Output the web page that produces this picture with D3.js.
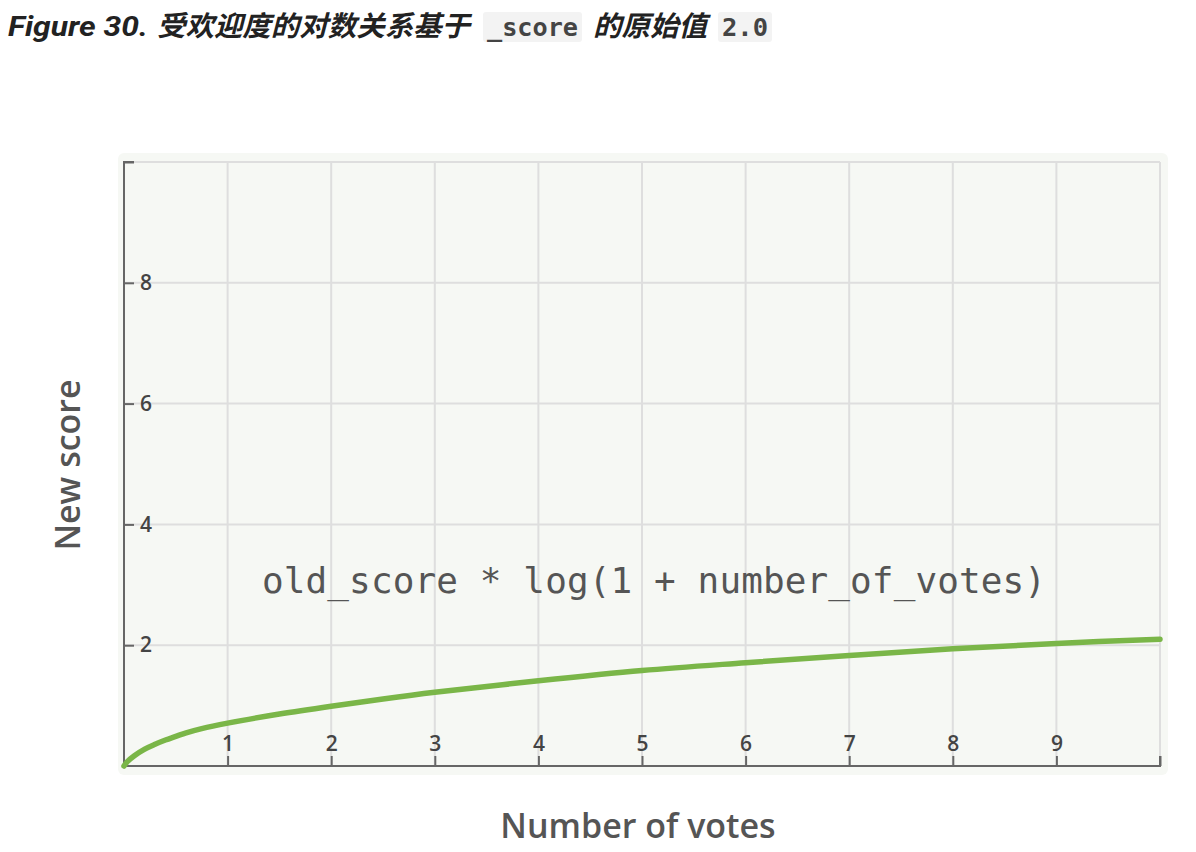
<!DOCTYPE html>
<html><head><meta charset="utf-8">
<script src="https://cdn.jsdelivr.net/npm/d3@7"></script>
<style>
body{margin:0;background:#fff;}
text{white-space:pre;}
</style></head>
<body>
<svg id="c" width="1196" height="852"></svg>
<script>
// Data
const votes = [0, 0.03, 0.1, 0.2, 0.3, 0.4, 0.5, 0.6, 0.75, 1, 1.5, 2, 2.5, 3, 4, 5, 6, 7, 8, 9, 10];
const newScore = [0, 0.07, 0.17, 0.28, 0.36, 0.43, 0.49, 0.55, 0.62, 0.71, 0.86, 0.99, 1.11, 1.22, 1.41, 1.58, 1.71, 1.83, 1.94, 2.03, 2.10];
const xTicks = [1, 2, 3, 4, 5, 6, 7, 8, 9];
const yTicks = [2, 4, 6, 8];
const xGrid = [1, 2, 3, 4, 5, 6, 7, 8, 9, 10];
const yGrid = [2, 4, 6, 8, 10];
const titleParts = [
  {t: "Figure 30. ", code: false},
  {t: "受欢迎度的对数关系基于", code: false, cjk: true},
  {t: "_score", code: true},
  {t: "的原始值", code: false, cjk: true},
  {t: "2.0", code: true}
];
const formula = "old_score * log(1 + number_of_votes)";

const svg = d3.select("#c");
const x = d3.scaleLinear().domain([0, 10]).range([124, 1160]);
const y = d3.scaleLinear().domain([0, 10]).range([766, 162]);

// Title
const title = svg.append("g");
const titleX = [8, 157, 487, 593, 722];
const titleW = [140, 313, 91, 114, 46];
titleParts.forEach((p, i) => {
  const tx = title.append("text")
    .attr("x", titleX[i]).attr("y", 36)
    .style("font-size", p.code ? "25px" : "28px")
    .style("font-family", p.code ? "'DejaVu Sans Mono', monospace" : (p.cjk ? "'Noto Sans CJK SC', sans-serif" : "Roboto, 'Liberation Sans', sans-serif"))
    .style("font-weight", "bold")
    .style("font-style", p.code ? "normal" : "italic")
    .attr("fill", p.code ? "#444" : "#222")
    .attr("textLength", titleW[i]).attr("lengthAdjust", "spacingAndGlyphs")
    .text(p.t.trim());
  if (p.code) {
    title.insert("rect", () => tx.node())
      .attr("x", titleX[i] - 4).attr("y", 12).attr("width", titleW[i] + 8).attr("height", 30)
      .attr("rx", 3).attr("fill", "#f3f3f3");
  }
});

// Plot background
svg.append("rect").attr("x", 118).attr("y", 153).attr("width", 1050).attr("height", 622)
  .attr("rx", 6).attr("fill", "#f6f8f4");

// Grid
svg.append("g").selectAll("line").data(xGrid).join("line")
  .attr("x1", d => x(d)).attr("x2", d => x(d)).attr("y1", y(10)).attr("y2", y(0))
  .attr("stroke", "#dedede").attr("stroke-width", 2);
svg.append("g").selectAll("line").data(yGrid).join("line")
  .attr("x1", x(0)).attr("x2", x(10)).attr("y1", d => y(d)).attr("y2", d => y(d))
  .attr("stroke", "#dedede").attr("stroke-width", 2);

// Y axis (ticks point inward, labels inside)
const yAxis = d3.axisRight(y).tickValues([...yTicks, 10]).tickSize(10).tickPadding(6)
  .tickFormat(d => d === 10 ? "" : d);
const gy = svg.append("g").attr("transform", `translate(${x(0)},0)`).call(yAxis);
gy.select(".domain").attr("d", `M10,${y(10)}H0V${y(0)}`);
gy.selectAll("path,line").attr("stroke", "#666").attr("stroke-width", 2);
gy.selectAll("text").style("font-family", "'Open Sans', sans-serif").style("font-size", "21px").style("font-weight", 600).attr("fill", "#444");

// X axis (ticks point up, labels above)
const xAxis = d3.axisTop(x).tickValues([...xTicks, 10]).tickSize(10).tickPadding(5)
  .tickFormat(d => d === 10 ? "" : d);
const gx = svg.append("g").attr("transform", `translate(0,${y(0)})`).call(xAxis);
gx.select(".domain").attr("d", `M${x(0)},0H${x(10)}V-10`);
gx.selectAll("path,line").attr("stroke", "#666").attr("stroke-width", 2);
gx.selectAll("text").style("font-family", "'Open Sans', sans-serif").style("font-size", "21px").style("font-weight", 600).attr("fill", "#444");

// Curve
const line = d3.line().x((d, i) => x(votes[i])).y(d => y(d)).curve(d3.curveCatmullRom.alpha(0.5));
svg.append("path").datum(newScore).attr("d", line)
  .attr("fill", "none").attr("stroke", "#7ab648").attr("stroke-width", 5.5).attr("stroke-linecap", "round");

// Formula annotation
svg.append("text").attr("x", 262).attr("y", 593)
  .style("font-family", "'DejaVu Sans Mono', monospace").style("font-size", "36px")
  .attr("fill", "#555").attr("textLength", 784).text(formula);

// Axis titles
svg.append("text").attr("x", 638).attr("y", 838).attr("text-anchor", "middle")
  .style("font-family", "'Open Sans', sans-serif").style("font-size", "34px").style("font-weight", 600)
  .attr("fill", "#555").text("Number of votes");
svg.append("text").attr("transform", "translate(80,465) rotate(-90)").attr("text-anchor", "middle")
  .style("font-family", "'Open Sans', sans-serif").style("font-size", "34px").style("font-weight", 600)
  .attr("fill", "#555").text("New score");
</script>
</body></html>
